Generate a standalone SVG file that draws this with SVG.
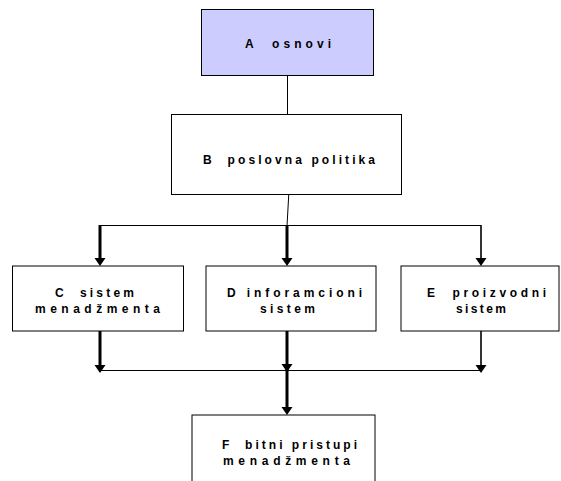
<svg xmlns="http://www.w3.org/2000/svg" width="561" height="481" viewBox="0 0 561 481">
<style>
.box{fill:#fff;stroke:#000;stroke-width:1}
.lbl{font-family:"Liberation Sans",Arial,sans-serif;font-size:12px;font-weight:bold;fill:#000;white-space:pre}
.thin{stroke:#000;stroke-width:1;fill:none}
.thick{stroke:#000;stroke-width:3;fill:none}
.mid{stroke:#000;stroke-width:1.6;fill:none}
.ah{fill:#000}
</style>
<rect width="561" height="481" fill="#fff"/>
<g id="connectors">
<line class="thin" x1="287.5" y1="75" x2="287.5" y2="126"/>
<line class="thin" x1="289" y1="190" x2="287" y2="226"/>
<line class="thin" x1="100" y1="225.5" x2="481" y2="225.5"/>
<line class="thick" x1="100" y1="225" x2="100" y2="259"/>
<polygon class="ah" points="94.5,258 105.5,258 100,266"/>
<line class="thick" x1="287" y1="225" x2="287" y2="259"/>
<polygon class="ah" points="281.5,258 292.5,258 287,266"/>
<line class="mid" x1="481" y1="225" x2="481" y2="259"/>
<polygon class="ah" points="475.5,258 486.5,258 481,266"/>
<line class="thick" x1="100" y1="331" x2="100" y2="366"/>
<polygon class="ah" points="94.5,365 105.5,365 100,373"/>
<line class="thick" x1="287" y1="331" x2="287" y2="408"/>
<polygon class="ah" points="281.5,364 292.5,364 287,372"/>
<polygon class="ah" points="281.5,407 292.5,407 287,415"/>
<line class="mid" x1="481" y1="331" x2="481" y2="366"/>
<polygon class="ah" points="475.5,365 486.5,365 481,373"/>
<line class="thin" x1="100" y1="370.5" x2="481" y2="370.5"/>
</g>
<g id="A">
<rect x="201.5" y="9.5" width="172" height="66" fill="#CCCCFF" stroke="#000" stroke-width="1"/>
<text class="lbl" x="245" y="47.5" textLength="86" lengthAdjust="spacing">A  osnovi</text>
</g>
<g id="B">
<rect class="box" x="171.5" y="114.5" width="230" height="80"/>
<text class="lbl" x="203" y="164" textLength="172" lengthAdjust="spacing">B  poslovna politika</text>
</g>
<g id="C">
<rect class="box" x="12.5" y="266" width="171" height="65"/>
<text class="lbl" x="55" y="296.5" textLength="79" lengthAdjust="spacing">C  sistem</text>
<text class="lbl" x="35" y="312.5" textLength="125" lengthAdjust="spacing">menadžmenta</text>
</g>
<g id="D">
<rect class="box" x="206" y="266" width="170" height="65"/>
<text class="lbl" x="227" y="296.5" textLength="135" lengthAdjust="spacing">D inforamcioni</text>
<text class="lbl" x="260" y="312.5" textLength="55" lengthAdjust="spacing">sistem</text>
</g>
<g id="E">
<rect class="box" x="401" y="266" width="158" height="65"/>
<text class="lbl" x="427" y="296.5" textLength="119" lengthAdjust="spacing">E  proizvodni</text>
<text class="lbl" x="456" y="312.5" textLength="50" lengthAdjust="spacing">sistem</text>
</g>
<g id="F">
<rect class="box" x="192" y="415" width="183" height="80"/>
<text class="lbl" x="222" y="448.5" textLength="135" lengthAdjust="spacing">F  bitni pristupi</text>
<text class="lbl" x="223" y="464.5" textLength="127" lengthAdjust="spacing">menadžmenta</text>
</g>
</svg>
